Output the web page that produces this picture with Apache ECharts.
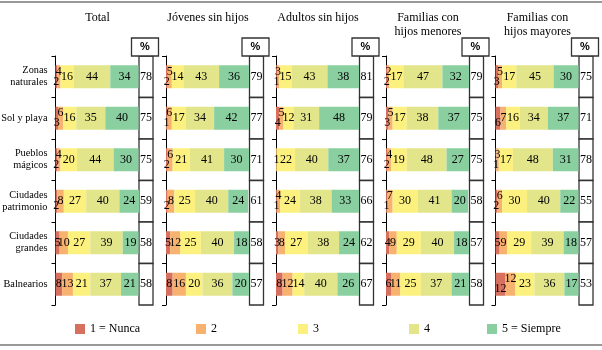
<!DOCTYPE html>
<html><head><meta charset="utf-8">
<script src="https://cdn.jsdelivr.net/npm/echarts@6/dist/echarts.min.js"></script>
<style>html,body{margin:0;padding:0;background:#fff}#c{width:602px;height:350px}</style>
</head><body><div id="c"></div>
<script>
// ---- data ----
const categories = ['Zonas\nnaturales','Sol y playa','Pueblos\nmágicos','Ciudades\npatrimonio','Ciudades\ngrandes','Balnearios'];
const groups = ['Total','Jóvenes sin hijos','Adultos sin hijos','Familias con\nhijos menores','Familias con\nhijos mayores'];
const levels = ['1 = Nunca','2','3','4','5 = Siempre'];
// rows: [nivel1, nivel2, nivel3, nivel4, nivel5]
const total      = [[2,4,16,44,34],[3,6,16,35,40],[2,4,20,44,30],[2,8,27,40,24],[5,10,27,39,19],[8,13,21,37,21]];
const jovenes    = [[2,5,14,43,36],[1,6,17,34,42],[2,6,21,41,30],[2,8,25,40,24],[5,12,25,40,18],[8,16,20,36,20]];
const adultos    = [[1,3,15,43,38],[4,5,12,31,48],[0,1,22,40,37],[1,4,24,38,33],[3,8,27,38,24],[8,12,14,40,26]];
const famMenores = [[2,2,17,47,32],[3,5,17,38,37],[2,4,19,48,27],[1,7,30,41,20],[4,9,29,40,18],[6,11,25,37,21]];
const famMayores = [[3,5,17,45,30],[6,7,16,34,37],[1,3,17,48,31],[2,6,30,40,22],[5,9,29,39,18],[12,12,23,36,17]];
const pctTotal   = [78,75,75,59,58,58];
const pctJovenes = [79,77,71,61,58,57];
const pctAdultos = [81,79,76,66,62,67];
const pctMenores = [79,75,75,58,57,58];
const pctMayores = [75,71,78,55,57,53];

const panels = [total, jovenes, adultos, famMenores, famMayores];
const pcts = [pctTotal, pctJovenes, pctAdultos, pctMenores, pctMayores];

// ---- layout / style ----
const colors = ['#d7705e','#f8b26f','#fcf07e','#e2e58a','#89cfa0'];
const serif = 'Liberation Serif';
const panelLeft = [55.5, 166, 276, 386, 495.5];
const gridW = 98, barSpan = 83;
const xMax = 100 * gridW / barSpan;
const gridTop = 56, gridBottom = 45;

function labelOffset(row, lv) {
  const v1 = row[0], v2 = row[1];
  if (v1 === 0) return null;
  if (v1 + v2 <= 9 || v1 === v2) return lv === 0 ? [0, 5] : (lv === 1 ? [0, -5] : null);
  if (v1 <= 2 || v2 - v1 <= 1) return lv === 0 ? [0, 5] : null;
  return null;
}

const grid = [], xAxis = [], yAxis = [], series = [], legend = [];
const graphic = [
  {type: 'line', shape: {x1: 0, y1: 2, x2: 602, y2: 2}, style: {stroke: '#777', lineWidth: 1.5}},
  {type: 'line', shape: {x1: 0, y1: 345, x2: 602, y2: 345}, style: {stroke: '#777', lineWidth: 1.5}}
];
panels.forEach((rows, p) => {
  grid.push({left: panelLeft[p], top: gridTop, bottom: gridBottom, width: gridW,
    containLabel: false, outerBoundsMode: 'none'});
  xAxis.push({gridIndex: p, type: 'value', min: 0, max: xMax, show: false});
  yAxis.push({gridIndex: p, type: 'category', data: categories, inverse: true,
    axisLine: {show: true, lineStyle: {color: '#000', width: 1}},
    axisTick: {show: true, length: 4, lineStyle: {color: '#000'}},
    axisLabel: {show: p === 0, fontFamily: serif, fontSize: 10.3, lineHeight: 12, color: '#000', margin: 8, align: 'right'},
    splitLine: {show: false}});
  graphic.push({type: 'text', x: panelLeft[p] + barSpan / 2 + 0.5, y: 11,
    style: {text: groups[p], align: 'center', verticalAlign: 'top', fontFamily: serif, fontSize: 12,
      lineHeight: 14, fill: '#000'}});
  levels.forEach((name, lv) => {
    series.push({
      type: 'bar', name, stack: 'p' + p, xAxisIndex: p, yAxisIndex: p, barWidth: 23,
      itemStyle: {color: colors[lv]},
      label: {show: true, position: 'inside', fontFamily: serif, fontSize: 12, color: '#000',
        formatter: d => d.value > 0 ? d.value : ''},
      data: rows.map(r => {
        const off = labelOffset(r, lv);
        return off ? {value: r[lv], label: {offset: off}} : {value: r[lv]};
      }),
      emphasis: {disabled: true}, animation: false
    });
  });
  series.push({
    type: 'custom', xAxisIndex: p, yAxisIndex: p, animation: false, silent: true,
    data: pcts[p].map((v, j) => [v, j]),
    encode: {x: 0, y: 1},
    renderItem: (params, api) => {
      const j = api.value(1);
      const yc = api.coord([0, j])[1];
      const bh = api.size([0, 1])[1];
      const x0 = api.coord([100, j])[0] + 0.5;
      const x1 = api.coord([xMax, j])[0] - 0.5;
      const children = [
        {type: 'rect', shape: {x: x0, y: yc - bh / 2, width: x1 - x0, height: bh},
          style: {fill: '#fff', stroke: '#333', lineWidth: 1.3}},
        {type: 'text', style: {text: String(api.value(0)), x: (x0 + x1) / 2, y: yc,
          align: 'center', verticalAlign: 'middle', fontFamily: serif, fontSize: 12, fill: '#000'}}
      ];
      if (j === 0) {
        const cx = (x0 + x1) / 2 - 1;
        children.push({type: 'rect', shape: {x: cx - 13.5, y: yc - bh / 2 - 18, width: 27, height: 18},
          style: {fill: '#fff', stroke: '#333', lineWidth: 1.3}});
        children.push({type: 'text', style: {text: '%', x: cx, y: yc - bh / 2 - 9, align: 'center',
          verticalAlign: 'middle', fontFamily: 'Liberation Sans', fontSize: 11, fontWeight: 'bold', fill: '#000'}});
      }
      return {type: 'group', children};
    }
  });
});

const legendLeft = [75, 196, 298, 409, 487];
levels.forEach((name, i) => {
  legend.push({data: [name], left: legendLeft[i] - 5, top: 318, itemWidth: 10, itemHeight: 10, icon: 'rect',
    selectedMode: false, textStyle: {fontFamily: serif, fontSize: 12, color: '#000'}, itemGap: 4});
});

const chart = echarts.init(document.getElementById('c'), null, {renderer: 'canvas'});
chart.setOption({animation: false, legend, grid, xAxis, yAxis, series, graphic});
</script></body></html>
